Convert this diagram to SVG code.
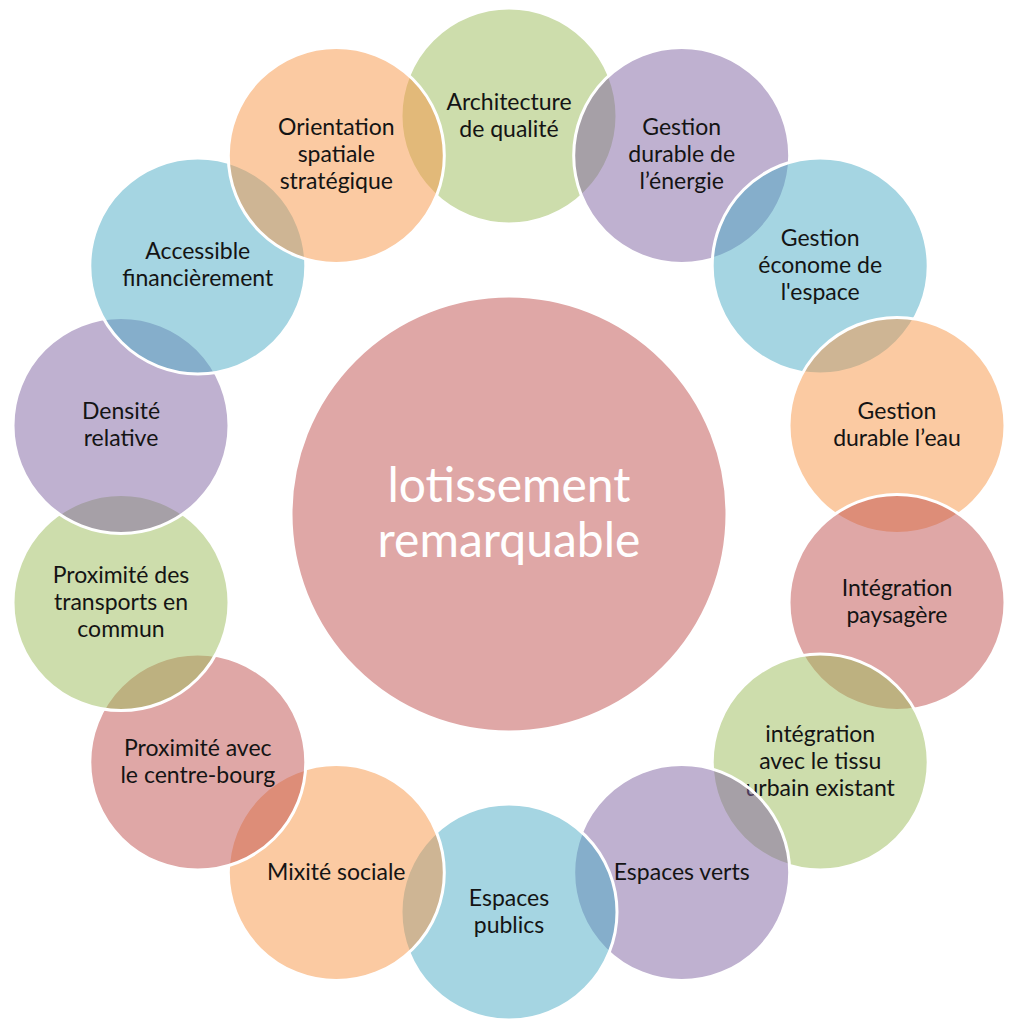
<svg xmlns="http://www.w3.org/2000/svg" width="1013" height="1021" viewBox="0 0 1013 1021">
<style>
.n{stroke:#fff;stroke-width:3;fill-opacity:0.5}
.g{fill:#9BBB59}.p{fill:#8064A2}.a{fill:#4BACC6}.o{fill:#F79646}.r{fill:#C0504D}
text{font-family:Lato,"Liberation Sans",sans-serif;font-size:23px;fill:#141414;text-anchor:middle}
.t{font-size:48px;fill:#fff}
</style>
<rect width="1013" height="1021" fill="#fff"/>
<g id="center">
<circle class="n r" cx="509" cy="514" r="218"/>
<text class="t"><tspan x="509" y="502">lotissement</tspan><tspan x="509" y="557">remarquable</tspan></text>
</g>
<g id="connectors"/>
<g id="n0"><circle class="n g" cx="509" cy="116" r="108"/>
<text><tspan x="509" y="109.5">Architecture</tspan><tspan x="509" y="136.5">de qualité</tspan></text></g>
<g id="n1"><circle class="n p" cx="681.7" cy="155.4" r="108"/>
<text><tspan x="681.7" y="135.4">Gestion</tspan><tspan x="681.7" y="162.4">durable de</tspan><tspan x="681.7" y="189.4">l’énergie</tspan></text></g>
<g id="n2"><circle class="n a" cx="820.2" cy="265.9" r="108"/>
<text><tspan x="820.2" y="245.9">Gestion</tspan><tspan x="820.2" y="272.9">économe de</tspan><tspan x="820.2" y="299.9">l'espace</tspan></text></g>
<g id="n3"><circle class="n o" cx="897" cy="425.4" r="108"/>
<text><tspan x="897" y="418.9">Gestion</tspan><tspan x="897" y="445.9">durable l’eau</tspan></text></g>
<g id="n4"><circle class="n r" cx="897" cy="602.6" r="108"/>
<text><tspan x="897" y="596.1">Intégration</tspan><tspan x="897" y="623.1">paysagère</tspan></text></g>
<g id="n5"><circle class="n g" cx="820.2" cy="762.1" r="108"/>
<text><tspan x="820.2" y="742.1">intégration</tspan><tspan x="820.2" y="769.1">avec le tissu</tspan><tspan x="820.2" y="796.1">urbain existant</tspan></text></g>
<g id="n6"><circle class="n p" cx="681.7" cy="872.6" r="108"/>
<text><tspan x="681.7" y="879.6">Espaces verts</tspan></text></g>
<g id="n7"><circle class="n a" cx="509" cy="912" r="108"/>
<text><tspan x="509" y="905.5">Espaces</tspan><tspan x="509" y="932.5">publics</tspan></text></g>
<g id="n8"><circle class="n o" cx="336.3" cy="872.6" r="108"/>
<text><tspan x="336.3" y="879.6">Mixité sociale</tspan></text></g>
<g id="n9"><circle class="n r" cx="197.8" cy="762.1" r="108"/>
<text><tspan x="197.8" y="755.6">Proximité avec</tspan><tspan x="197.8" y="782.6">le centre-bourg</tspan></text></g>
<g id="n10"><circle class="n g" cx="121" cy="602.6" r="108"/>
<text><tspan x="121" y="582.6">Proximité des</tspan><tspan x="121" y="609.6">transports en</tspan><tspan x="121" y="636.6">commun</tspan></text></g>
<g id="n11"><circle class="n p" cx="121" cy="425.4" r="108"/>
<text><tspan x="121" y="418.9">Densité</tspan><tspan x="121" y="445.9">relative</tspan></text></g>
<g id="n12"><circle class="n a" cx="197.8" cy="265.9" r="108"/>
<text><tspan x="197.8" y="259.4">Accessible</tspan><tspan x="197.8" y="286.4">financièrement</tspan></text></g>
<g id="n13"><circle class="n o" cx="336.3" cy="155.4" r="108"/>
<text><tspan x="336.3" y="135.4">Orientation</tspan><tspan x="336.3" y="162.4">spatiale</tspan><tspan x="336.3" y="189.4">stratégique</tspan></text></g>
</svg>
